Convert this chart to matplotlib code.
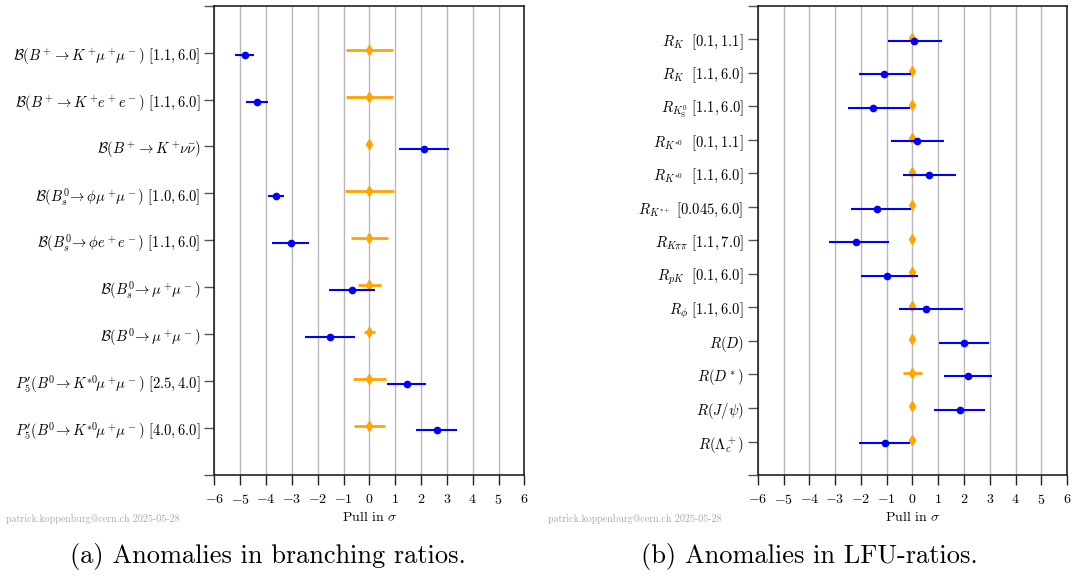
import numpy as np
import matplotlib
matplotlib.use('Agg')
import matplotlib.pyplot as plt

plt.rcParams['font.family'] = 'serif'
plt.rcParams['font.serif'] = ['cmr10']
plt.rcParams['mathtext.fontset'] = 'cm'
plt.rcParams['axes.formatter.use_mathtext'] = True

# ---- branching ratios ----
br_labels = [
    r'$\mathcal{B}(B^+\!\to K^+\!\mu^+\!\mu^-)\ [1.1, 6.0]$',
    r'$\mathcal{B}(B^+\!\to K^+\!e^+e^-)\ [1.1, 6.0]$',
    r'$\mathcal{B}(B^+\!\to K^+\!\nu\bar{\nu})$',
    r'$\mathcal{B}(B^0_s\!\to \phi\mu^+\!\mu^-)\ [1.0, 6.0]$',
    r'$\mathcal{B}(B^0_s\!\to \phi e^+e^-)\ [1.1, 6.0]$',
    r'$\mathcal{B}(B^0_s\!\to \mu^+\!\mu^-)$',
    r'$\mathcal{B}(B^0\!\to \mu^+\!\mu^-)$',
    r"$P_5'(B^0\!\to K^{*0}\!\mu^+\!\mu^-)\ [2.5, 4.0]$",
    r"$P_5'(B^0\!\to K^{*0}\!\mu^+\!\mu^-)\ [4.0, 6.0]$",
]
br_pull = [-4.83, -4.36, 2.11, -3.60, -3.05, -0.68, -1.51, 1.44, 2.61]
br_err_lo = [0.37, 0.43, 0.98, 0.31, 0.71, 0.89, 0.97, 0.77, 0.79]
br_err_hi = [0.37, 0.43, 0.98, 0.31, 0.71, 0.89, 0.97, 0.77, 0.79]
br_sm_err = [0.92, 0.90, 0.0, 0.95, 0.72, 0.45, 0.21, 0.63, 0.60]

# ---- LFU ratios ----
lfu_labels = [
    r'$R_K\ \ [0.1, 1.1]$',
    r'$R_K\ \ [1.1, 6.0]$',
    r'$R_{K^0_\mathrm{S}}\ [1.1, 6.0]$',
    r'$R_{K^{*0}}\ \ [0.1, 1.1]$',
    r'$R_{K^{*0}}\ \ [1.1, 6.0]$',
    r'$R_{K^{*+}}\ [0.045, 6.0]$',
    r'$R_{K\pi\pi}\ [1.1, 7.0]$',
    r'$R_{pK}\ \ [0.1, 6.0]$',
    r'$R_\phi\ [1.1, 6.0]$',
    r'$R(D)$',
    r'$R(D^*)$',
    r'$R(J/\psi)$',
    r'$R(\Lambda_c^+)$',
]
lfu_pull = [0.05, -1.10, -1.51, 0.19, 0.64, -1.39, -2.19, -0.99, 0.51, 2.00, 2.17, 1.83, -1.08]
lfu_err_lo = [1.00, 0.96, 0.99, 1.01, 0.99, 0.99, 1.03, 1.01, 1.03, 0.98, 0.94, 1.00, 0.99]
lfu_err_hi = [1.09, 1.05, 1.42, 1.04, 1.07, 1.34, 1.28, 1.20, 1.44, 0.98, 0.92, 1.00, 0.99]
lfu_sm_err = [0.0, 0.0, 0.0, 0.0, 0.0, 0.0, 0.0, 0.0, 0.0, 0.0, 0.36, 0.0, 0.0]

fig = plt.figure(figsize=(10.82, 5.76), dpi=100)
ax1 = fig.add_axes([0.1981, 0.1753, 0.2865, 0.8148])
ax2 = fig.add_axes([0.7003, 0.1753, 0.2859, 0.8148])


def pull_plot(ax, labels, pull, lo, hi, sm_err):
    n = len(labels)
    y = np.arange(n)
    ax.errorbar(np.zeros(n), y - 0.05, xerr=sm_err, fmt='d', color='orange',
                ms=5, lw=2, capsize=0, zorder=3)
    ax.errorbar(pull, y + 0.05, xerr=[lo, hi], fmt='o', color='blue',
                ms=4.5, lw=1.5, capsize=0, zorder=4)
    ax.set_xlim(-6, 6)
    ax.set_ylim(n, -1)
    ax.set_xticks(np.arange(-6, 7))
    ax.set_yticks(np.arange(-1, n + 1))
    ax.set_yticklabels([''] + labels + [''])
    ax.tick_params(axis='y', direction='out', length=7, width=1,
                   color='#555555', labelsize=10.5, pad=3)
    ax.tick_params(axis='x', direction='out', length=7, width=1,
                   color='#222222', labelsize=10, pad=6)
    ax.xaxis.grid(True, color='#b8b8b8', lw=1)
    ax.set_axisbelow(True)
    for s in ax.spines.values():
        s.set_linewidth(1.2)
        s.set_color('#222222')
    ax.set_xlabel(r'Pull in $\sigma$', fontsize=10, labelpad=2)


pull_plot(ax1, br_labels, br_pull, br_err_lo, br_err_hi, br_sm_err)
pull_plot(ax2, lfu_labels, lfu_pull, lfu_err_lo, lfu_err_hi, lfu_sm_err)

for xw in [0.006, 0.5065]:
    fig.text(xw, 0.099, 'patrick.koppenburg@cern.ch 2025-05-28', fontsize=7.2,
             color='#aaaaaa', va='center', ha='left')

fig.text(0.065, 0.033, '(a) Anomalies in branching ratios.', fontsize=19,
         ha='left', va='center')
fig.text(0.592, 0.033, '(b) Anomalies in LFU-ratios.', fontsize=19,
         ha='left', va='center')

fig.savefig('out.png', dpi=100)
